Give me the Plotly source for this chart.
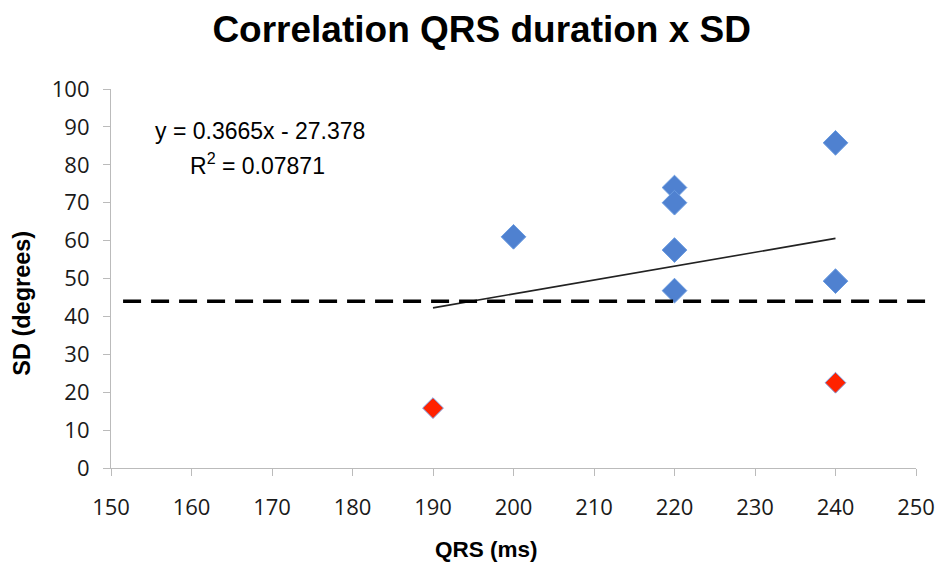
import plotly.graph_objects as go

# Data
qrs_blue = [200, 220, 220, 220, 220, 240, 240]
sd_blue = [61, 74, 70, 57.5, 46.8, 85.8, 49.3]
qrs_red = [190, 240]
sd_red = [15.8, 22.5]
slope, intercept = 0.3665, -27.378
trend_x = [190, 240]
threshold = 44

x_ticks = list(range(150, 251, 10))
y_ticks = list(range(0, 101, 10))

fig = go.Figure()
fig.add_trace(go.Scatter(
    x=trend_x, y=[slope * x + intercept for x in trend_x], mode="lines",
    line=dict(color="#222222", width=1.6), showlegend=False, hoverinfo="skip"))
fig.add_trace(go.Scatter(
    x=qrs_blue, y=sd_blue, mode="markers",
    marker=dict(symbol="diamond", size=19, color="#4F81D0",
                line=dict(color="#6A9BDF", width=1)),
    showlegend=False))
fig.add_trace(go.Scatter(
    x=qrs_red, y=sd_red, mode="markers",
    marker=dict(symbol="diamond", size=16, color="#FF2200",
                line=dict(color="#7FA0E0", width=1)),
    showlegend=False))

fig.add_shape(type="line", xref="paper", yref="y", x0=0.015, x1=1.023,
              y0=threshold, y1=threshold,
              line=dict(color="black", width=3.5, dash="18px,10px"))

eq_font = dict(family="Liberation Sans, Arial", size=23, color="black")
fig.add_annotation(xref="paper", yref="paper", x=0.185, y=0.888, xanchor="center",
                   yanchor="middle", text="y = 0.3665x - 27.378", showarrow=False,
                   font=eq_font)
fig.add_annotation(xref="paper", yref="paper", x=0.182, y=0.801, xanchor="center",
                   yanchor="middle", text="R<sup>2</sup> = 0.07871", showarrow=False,
                   font=eq_font)

fig.add_annotation(xref="paper", yref="paper", x=-0.111, y=0.435, xanchor="center",
                   yanchor="middle", text="<b>SD (degrees)</b>", showarrow=False,
                   textangle=-90,
                   font=dict(family="Liberation Sans, Arial", size=23.5, color="black"))
fig.add_annotation(xref="paper", yref="paper", x=0.467, y=-0.216, xanchor="center",
                   yanchor="middle", text="<b>QRS (ms)</b>", showarrow=False,
                   font=dict(family="Liberation Sans, Arial", size=22.5, color="black"))

tick_font = dict(family="Open Sans, Liberation Sans", size=22, color="#1a1a1a")

fig.update_layout(
    width=939, height=564,
    margin=dict(l=111, r=23, t=89, b=96),
    paper_bgcolor="white", plot_bgcolor="white",
    title=dict(text="<b>Correlation QRS duration x SD</b>", x=0.513, xanchor="center",
               y=0.948, yanchor="middle",
               font=dict(family="Liberation Sans, Arial", size=37, color="black")),
    xaxis=dict(range=[150, 250], tickvals=x_ticks, showgrid=False, zeroline=False,
               showline=True, linecolor="#BBBBBB", linewidth=1.2, automargin=False,
               ticks="outside", tickcolor="#BBBBBB", ticklen=7, tickfont=tick_font,
               ticklabelstandoff=12),
    yaxis=dict(range=[0, 100], tickvals=y_ticks, showgrid=False, zeroline=False,
               showline=True, linecolor="#BBBBBB", linewidth=1.2, automargin=False,
               ticks="outside", tickcolor="#BBBBBB", ticklen=7, tickfont=tick_font,
               ticklabelstandoff=9),
)

fig.write_html("out.html")
